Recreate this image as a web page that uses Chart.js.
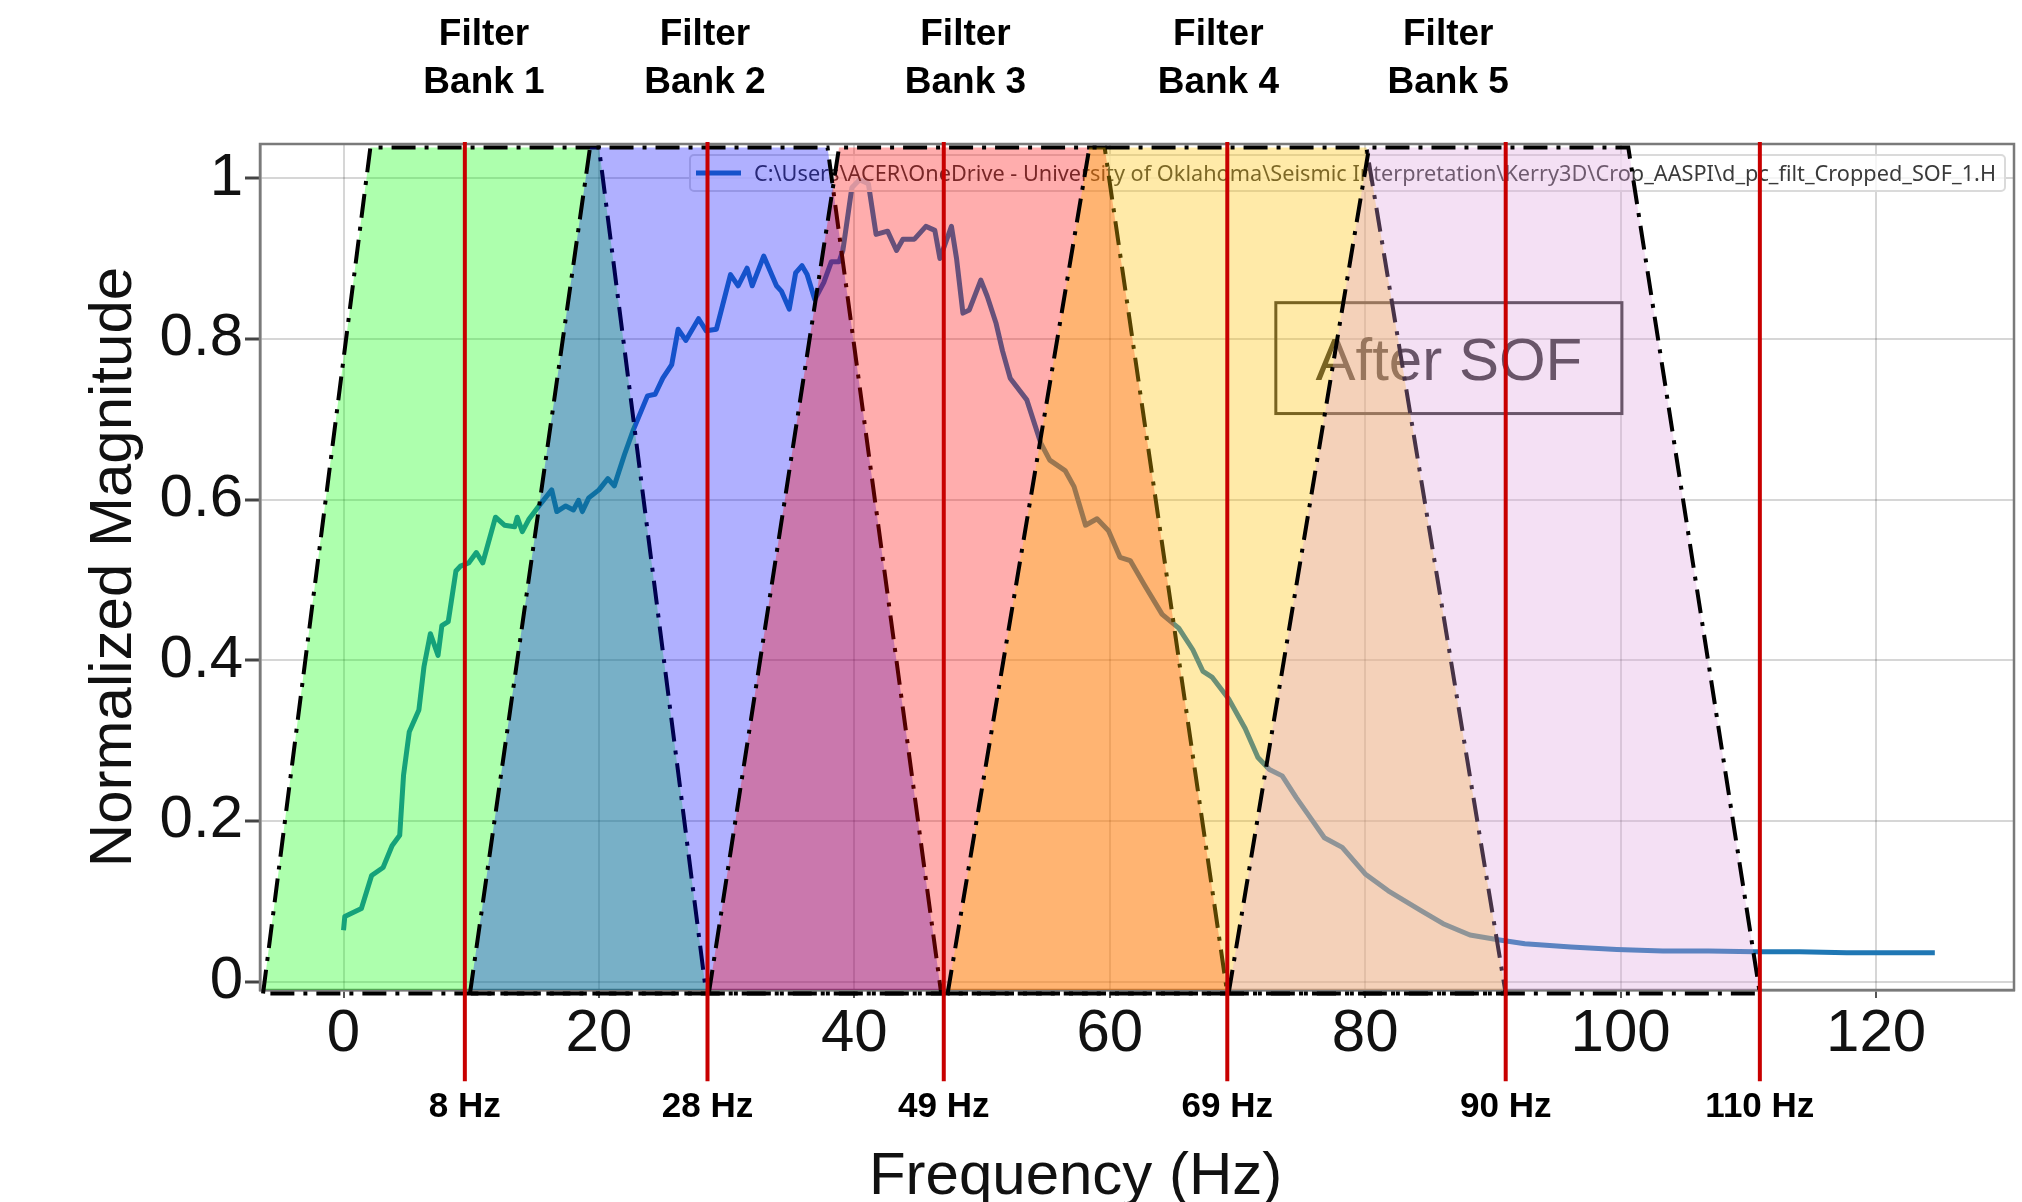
<!DOCTYPE html>
<html>
<head>
<meta charset="utf-8">
<script src="https://cdn.jsdelivr.net/npm/chart.js@4.4.1/dist/chart.umd.min.js"></script>
<style>
  html, body { margin: 0; padding: 0; background: #fff; }
  #wrap { width: 2022px; height: 1202px; }
</style>
</head>
<body>
<div id="wrap"><canvas id="spec" width="2022" height="1202"></canvas></div>
<script>
// spectrum after SOF
const freqHz = [0.0, 0.1, 1.4, 2.2, 3.1, 3.8, 4.4, 4.7, 5.15, 5.9, 6.3, 6.8, 7.4, 7.7, 8.2, 8.8, 9.15, 9.8, 10.4, 10.9,
  11.9, 12.6, 13.4, 13.6, 14.0, 14.5, 15.3, 16.3, 16.7, 17.4, 18.0, 18.4, 18.7, 19.2, 20.0, 20.7, 21.2, 22.0, 22.7, 23.8,
  24.4, 25.0, 25.7, 26.2, 26.8, 27.8, 28.4, 29.2, 30.3, 30.9, 31.6, 32.0, 32.9, 33.9, 34.3, 34.9, 35.4, 35.9, 36.3, 36.9,
  37.6, 38.2, 38.8, 39.1, 39.8, 40.4, 41.1, 41.7, 42.6, 43.3, 43.8, 44.7, 45.6, 46.3, 46.7, 47.6, 48.0, 48.5, 49.0, 49.9,
  50.4, 51.1, 51.6, 52.2, 53.5, 54.6, 55.3, 56.5, 57.2, 58.1, 59.0, 59.9, 60.8, 61.6, 62.7, 64.1, 65.4, 66.5, 67.3, 68.0,
  69.3, 70.6, 71.6, 72.5, 73.5, 74.6, 75.7, 76.8, 78.2, 80.0, 81.8, 84.3, 86.1, 88.2, 90.4, 92.5, 96.1, 99.7, 103.3, 106.9,
  110.5, 114.0, 117.7, 124.6]
const magnitude = [0.064, 0.081, 0.091, 0.132, 0.142, 0.169, 0.182, 0.257, 0.311, 0.338, 0.392, 0.433, 0.406, 0.443, 0.448, 0.511, 0.517, 0.521, 0.534, 0.521,
  0.578, 0.568, 0.566, 0.578, 0.560, 0.575, 0.592, 0.612, 0.585, 0.592, 0.587, 0.599, 0.585, 0.602, 0.612, 0.626, 0.617, 0.656, 0.687, 0.729,
  0.731, 0.751, 0.768, 0.812, 0.798, 0.825, 0.810, 0.812, 0.880, 0.866, 0.888, 0.866, 0.903, 0.866, 0.859, 0.837, 0.882, 0.891, 0.880, 0.849,
  0.870, 0.896, 0.896, 0.910, 0.988, 0.998, 0.993, 0.930, 0.934, 0.910, 0.924, 0.924, 0.940, 0.935, 0.900, 0.940, 0.900, 0.832, 0.836, 0.873,
  0.853, 0.819, 0.785, 0.751, 0.724, 0.670, 0.649, 0.636, 0.616, 0.568, 0.576, 0.561, 0.528, 0.524, 0.494, 0.457, 0.440, 0.413, 0.386, 0.379,
  0.352, 0.315, 0.279, 0.264, 0.256, 0.229, 0.204, 0.179, 0.167, 0.134, 0.113, 0.089, 0.072, 0.058, 0.052, 0.047, 0.043, 0.040, 0.038, 0.038,
  0.037, 0.037, 0.036, 0.036]

const xTickValues = [0, 20, 40, 60, 80, 100, 120]
const yTickValues = [0, 0.2, 0.4, 0.6, 0.8, 1]
const yTickLabels = ['0', '0.2', '0.4', '0.6', '0.8', '1']

// filter bank trapezoids, corners in Hz
const bankNames = ['Bank 1', 'Bank 2', 'Bank 3', 'Bank 4', 'Bank 5']
const bankBottomLeft = [-6.3, 9.9, 28.6, 47.3, 69.3]
const bankTopLeft = [2.1, 19.3, 38.8, 58.4, 80.3]
const bankTopRight = [20.0, 37.9, 59.6, 80.1, 100.6]
const bankBottomRight = [28.4, 46.8, 69.2, 91.0, 110.9]
const bankLabelHz = [11.0, 28.3, 48.7, 68.5, 86.5]
const bankLow = -0.015
const bankHigh = 1.038

// cut-off markers
const cutoffHz = [9.5, 28.5, 47.0, 69.2, 91.0, 110.9]
const cutoffLabels = ['8 Hz', '28 Hz', '49 Hz', '69 Hz', '90 Hz', '110 Hz']
const cutoffSpan = [-0.124, 1.045]

const legendText = 'C:\\Users\\ACER\\OneDrive - University of Oklahoma\\Seismic Interpretation\\Kerry3D\\Crop_AASPI\\d_pc_filt_Cropped_SOF_1.H'
const sofBox = [73.0, 100.1, 0.707, 0.845]

const bankFills = ['rgba(0,255,0,0.32)', 'rgba(0,0,255,0.31)', 'rgba(255,0,0,0.32)', 'rgba(255,192,0,0.34)', 'rgba(221,160,221,0.32)']
const AXIS_FONT = '"Liberation Sans", Arial, sans-serif'

const datasets = []

datasets.push({
  label: 'spectrum',
  data: freqHz.map((f, i) => ({ x: f, y: magnitude[i] })),
  borderColor: '#1f77b4',
  borderWidth: 5,
  borderJoinStyle: 'round',
  pointRadius: 0,
  fill: false,
  order: 100
})

bankNames.forEach((name, i) => {
  datasets.push({
    label: name,
    data: [
      { x: bankBottomLeft[i], y: bankLow },
      { x: bankTopLeft[i], y: bankHigh },
      { x: bankTopRight[i], y: bankHigh },
      { x: bankBottomRight[i], y: bankLow },
      { x: bankBottomLeft[i], y: bankLow }
    ],
    borderColor: '#000',
    borderWidth: 4,
    borderDash: [24, 9, 4, 9],
    backgroundColor: bankFills[i],
    fill: 'shape',
    pointRadius: 0,
    clip: false,
    order: 20 - i
  })
})

cutoffHz.forEach((hz, i) => {
  datasets.push({
    label: cutoffLabels[i],
    data: [{ x: hz, y: cutoffSpan[0] }, { x: hz, y: cutoffSpan[1] }],
    borderColor: '#c80000',
    borderWidth: 4,
    pointRadius: 0,
    fill: false,
    clip: false,
    order: 1
  })
})

const overlay = {
  id: 'overlay',
  beforeDatasetsDraw(chart) {
    const a = chart.chartArea, ctx = chart.ctx
    ctx.save()
    ctx.strokeStyle = '#7a7a7a'
    ctx.lineWidth = 2.5
    ctx.strokeRect(a.left, a.top, a.right - a.left, a.bottom - a.top)
    ctx.restore()
  },
  afterDatasetDraw(chart, args) {
    if (args.index !== 0) return
    const a = chart.chartArea, ctx = chart.ctx
    const xs = chart.scales.x, ys = chart.scales.y
    ctx.save()

    // legend box
    const lx = a.left + 430, ly = a.top + 11, lw = a.right - 9 - lx, lh = 36
    ctx.fillStyle = 'rgba(255,255,255,0.75)'
    ctx.strokeStyle = '#dadada'
    ctx.lineWidth = 2
    ctx.beginPath()
    ctx.roundRect(lx, ly, lw, lh, 4)
    ctx.fill()
    ctx.stroke()
    ctx.strokeStyle = '#1f77b4'
    ctx.lineWidth = 5
    ctx.beginPath()
    ctx.moveTo(lx + 6, ly + lh / 2)
    ctx.lineTo(lx + 51, ly + lh / 2)
    ctx.stroke()
    ctx.font = '22px "Noto Sans", "Open Sans", sans-serif'
    ctx.fillStyle = '#3a3a3a'
    ctx.textBaseline = 'alphabetic'
    const tx = lx + 64, room = lx + lw - 9 - tx
    const tw = ctx.measureText(legendText).width
    ctx.save()
    ctx.translate(tx, ly + lh / 2 + 8)
    ctx.scale(Math.min(1.1, room / tw), 1)
    ctx.fillText(legendText, 0, 0)
    ctx.restore()

    // "After SOF" box
    const bx0 = xs.getPixelForValue(sofBox[0]), bx1 = xs.getPixelForValue(sofBox[1])
    const by0 = ys.getPixelForValue(sofBox[3]), by1 = ys.getPixelForValue(sofBox[2])
    ctx.strokeStyle = '#333'
    ctx.lineWidth = 3
    ctx.strokeRect(bx0, by0, bx1 - bx0, by1 - by0)
    ctx.font = '60px ' + AXIS_FONT
    ctx.fillStyle = '#333'
    ctx.textAlign = 'center'
    ctx.fillText('After SOF', (bx0 + bx1) / 2, (by0 + by1) / 2 + 22)
    ctx.restore()
  },
  afterDraw(chart) {
    const a = chart.chartArea, ctx = chart.ctx
    const xs = chart.scales.x
    ctx.save()
    ctx.fillStyle = '#000'
    ctx.textAlign = 'center'
    ctx.textBaseline = 'alphabetic'

    ctx.font = 'bold 37px ' + AXIS_FONT
    bankNames.forEach((name, i) => {
      const px = xs.getPixelForValue(bankLabelHz[i])
      ctx.fillText('Filter', px, a.top - 99)
      ctx.fillText(name, px, a.top - 51)
    })

    ctx.font = 'bold 35px ' + AXIS_FONT
    cutoffLabels.forEach((lab, i) => {
      ctx.fillText(lab, xs.getPixelForValue(cutoffHz[i]), a.bottom + 127)
    })

    ctx.font = '60px ' + AXIS_FONT
    ctx.fillStyle = '#111'
    ctx.fillText('Frequency (Hz)', a.left + 0.465 * (a.right - a.left), 1194)
    ctx.restore()
  }
}

new Chart(document.getElementById('spec'), {
  type: 'line',
  data: { datasets },
  options: {
    responsive: false,
    animation: false,
    events: [],
    layout: { padding: { top: 144, right: 8, left: 0, bottom: 0 } },
    plugins: {
      legend: { display: false },
      tooltip: { enabled: false }
    },
    scales: {
      x: {
        type: 'linear',
        min: -6.54,
        max: 130.8,
        afterBuildTicks: s => { s.ticks = xTickValues.map(v => ({ value: v })) },
        afterFit: s => { s.height = 212 },
        grid: { color: 'rgba(0,0,0,0.16)', lineWidth: 2, tickLength: 8, tickColor: '#555', tickWidth: 2 },
        border: { display: true, color: '#7a7a7a', width: 2.5 },
        ticks: { font: { family: AXIS_FONT, size: 60 }, color: '#111', padding: 0, maxRotation: 0, autoSkip: false }
      },
      y: {
        type: 'linear',
        min: -0.0105,
        max: 1.0425,
        afterBuildTicks: s => { s.ticks = yTickValues.map(v => ({ value: v })) },
        afterFit: s => { s.width = 260 },
        grid: { color: 'rgba(0,0,0,0.16)', lineWidth: 2, tickLength: 15, tickColor: '#444', tickWidth: 3 },
        border: { display: true, color: '#7a7a7a', width: 2.5 },
        ticks: {
          font: { family: AXIS_FONT, size: 60 },
          color: '#111',
          padding: 2,
          autoSkip: false,
          callback: v => yTickLabels[yTickValues.indexOf(v)] ?? ''
        },
        title: {
          display: true,
          text: 'Normalized Magnitude',
          font: { family: AXIS_FONT, size: 60 },
          color: '#111',
          padding: { top: 78, bottom: 0 }
        }
      }
    }
  },
  plugins: [overlay]
})
</script>
</body>
</html>
